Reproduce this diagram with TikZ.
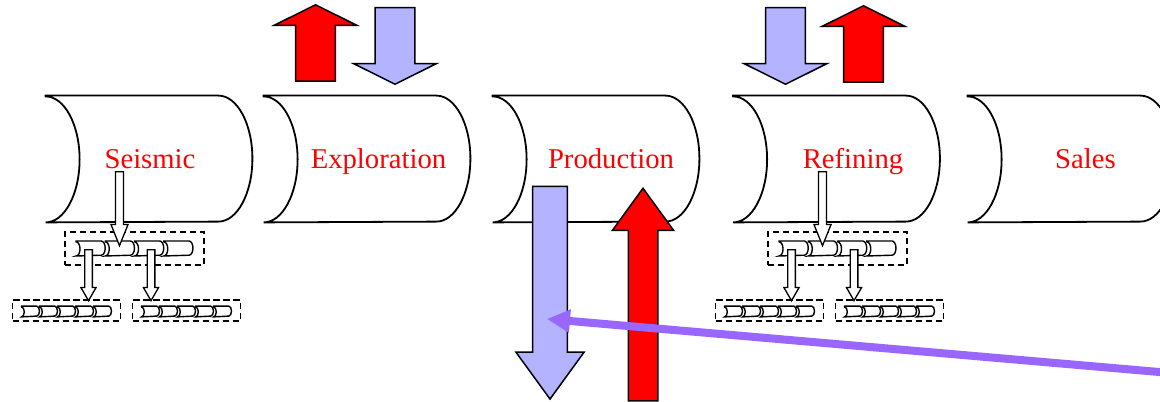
\documentclass[tikz,border=0pt]{standalone}
\usepackage{fontspec}
\setmainfont{Liberation Serif}
\usetikzlibrary{shapes.arrows,arrows.meta}
\definecolor{flowred}{RGB}{255,0,0}
\definecolor{flowblue}{RGB}{179,179,255}
\definecolor{pointer}{RGB}{153,102,255}

% outline of a process stage: concave left end, convex right end
% #1 node, #2 x radius of the ends, #3 half height, #4 draw options
\newcommand{\scrollshape}[4]{%
  \draw[#4] (#1.north west) -- ([xshift=-#2]#1.north east)
    arc[start angle=90, end angle=-90, x radius=#2, y radius=#3]
    -- (#1.south west)
    arc[start angle=-90, end angle=90, x radius=#2, y radius=#3] -- cycle;}

\tikzset{
  stagebox/.style={inner sep=0pt, minimum width=103pt, minimum height=63pt},
  stageline/.style={draw, line width=0.9pt, fill=white},
  stagetext/.style={anchor=base, text=flowred, inner sep=0pt,
    font=\fontsize{14.35}{17}\selectfont},
  block/.style={single arrow, draw, line width=0.75pt, inner xsep=0pt,
    text height=0pt, text depth=0pt, single arrow head indent=0pt},
  topup/.style={block, fill=flowred, rotate=90, anchor=tail,
    inner ysep=9.6pt, single arrow head extend=10.75pt,
    minimum height=38.25pt, single arrow tip angle=127},
  topdown/.style={block, fill=flowblue, rotate=-90, anchor=tail,
    inner ysep=9.6pt, single arrow head extend=10.75pt,
    minimum height=38.25pt, single arrow tip angle=127},
  thinstem/.style={block, fill=white, line width=0.65pt, rotate=-90, anchor=tail,
    inner ysep=1.7pt, single arrow head extend=2.25pt,
    minimum height=37pt, single arrow tip angle=44},
  thinsub/.style={block, fill=white, line width=0.65pt, rotate=-90, anchor=tail,
    inner ysep=1.6pt, single arrow head extend=1.85pt,
    minimum height=25.5pt, single arrow tip angle=60},
  subbox/.style={draw, line width=0.65pt, dash pattern=on 3.2pt off 1.8pt,
    inner sep=0pt},
  bigstep/.style={inner sep=0pt, minimum width=14.2pt, minimum height=7.1pt},
  smallstep/.style={inner sep=0pt, minimum width=8.6pt, minimum height=5pt},
  stepline/.style={draw, line width=0.7pt, fill=white},
  subflow/.pic={
    % first level: four steps in a dashed frame
    \node[subbox, minimum width=69.5pt, minimum height=16.5pt] (-top) at (-15.5,248.5) {};
    \foreach \k in {1,...,4} {
      \node[bigstep] (-m\k) at ({-15.5+(\k-2.5)*29.25},248.5) {};
      \scrollshape{-m\k}{2pt}{3.55pt}{stepline}
    }
    % second level: two frames of five steps
    \node[subbox, minimum width=54pt, minimum height=10.5pt] (-left) at (-83.5,310.5) {};
    \node[subbox, minimum width=54pt, minimum height=10.5pt] (-right) at (36.5,310.5) {};
    \foreach \k in {1,...,5} {
      \node[smallstep] (-l\k) at ({-83.5+(\k-3)*18},311.5) {};
      \scrollshape{-l\k}{1.4pt}{2.5pt}{stepline}
      \node[smallstep] (-r\k) at ({36.5+(\k-3)*18},311.5) {};
      \scrollshape{-r\k}{1.4pt}{2.5pt}{stepline}
    }
    % links between the levels
    \node[thinstem] (-stem) at (-30.5,171) {};
    \node[thinsub] (-subl) at (-61.5,249) {};
    \node[thinsub] (-subr) at (1,249) {};
  }
}

\begin{document}
\begin{tikzpicture}[x=0.5pt,y=-0.5pt]
\useasboundingbox (0,0) rectangle (1160,401);

% value chain stages
\node[stagebox] (seis) at (149,159) {};
\node[stagebox] (expl) at (367,159) {};
\node[stagebox] (prod) at (596,159) {};
\node[stagebox] (refi) at (836.5,159) {};
\node[stagebox] (sale) at (1071,159) {};
\foreach \s in {seis,expl,prod,refi,sale} {
  \scrollshape{\s}{17pt}{31.5pt}{stageline}
}

\node[stagetext] (seistxt) at (150,168) {Seismic};
\node[stagetext] (expltxt) at (378.5,168) {Exploration};
\node[stagetext] (prodtxt) at (611,168) {Production};
\node[stagetext] (refitxt) at (853,168) {Refining};
\node[stagetext] (saletxt) at (1085.5,168) {Sales};

% flows in and out of exploration and refining
\node[topup]   (explout) at (315.5,82) {};
\node[topdown] (explin)  at (395,7) {};
\node[topdown] (refiin)  at (785.5,7) {};
\node[topup]   (refiout) at (863.5,83) {};

% production flows
\node[block, fill=flowblue, rotate=-90, anchor=tail, inner ysep=8.3pt,
  single arrow head extend=8.4pt, minimum height=106.3pt,
  single arrow tip angle=72] (prodin) at (550,185.7) {};
\node[block, fill=flowred, rotate=90, anchor=tail, inner ysep=7pt,
  single arrow head extend=7.9pt, minimum height=106.3pt,
  single arrow tip angle=72] (prodout) at (643,401.6) {};

% sub-processes
\pic (seissub) at (150,0) {subflow};
\pic (refisub) at (853,0) {subflow};

% pointer
\coordinate (ptrtail) at (1240,379);
\coordinate (ptrtip) at (547,319);
\draw[pointer, line width=4pt, -{Triangle[length=11.5pt,width=11pt]}]
  (ptrtail) -- (ptrtip);
\end{tikzpicture}
\end{document}
